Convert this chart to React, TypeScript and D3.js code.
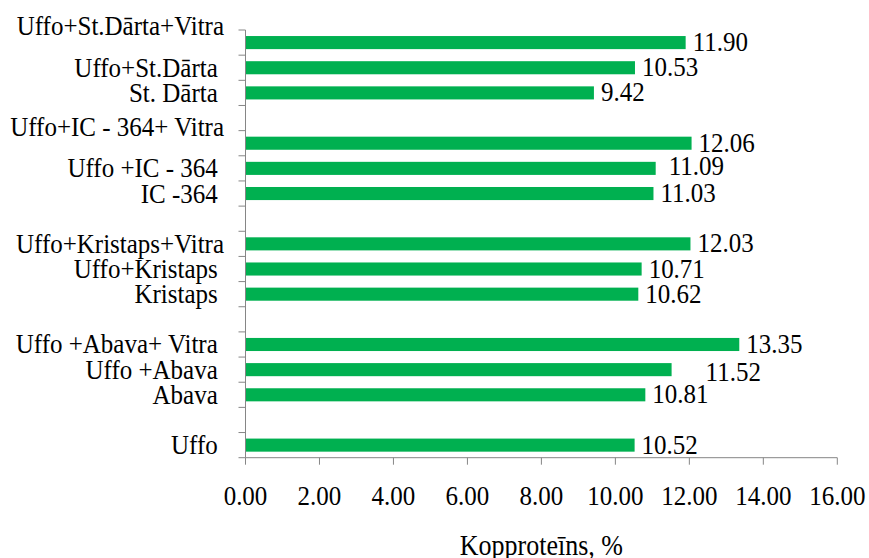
import React from "react";
import * as d3 from "d3";

// Varieties and mixtures, bottom to top; empty strings are spacer rows between groups.
// A trailing "\n" puts the name on the upper of two lines.
const categories = [
  "Uffo ",
  "",
  "Abava ",
  "Uffo +Abava ",
  "Uffo +Abava+ Vitra ",
  "",
  "Kristaps ",
  "Uffo+Kristaps ",
  "Uffo+Kristaps+Vitra",
  "",
  "IC -364 ",
  "Uffo +IC - 364 ",
  "Uffo+IC - 364+ Vitra\n",
  "",
  "St. Dārta ",
  "Uffo+St.Dārta ",
  "Uffo+St.Dārta+Vitra\n",
];

// Crude protein content, %
const proteinValues: (number | null)[] = [
  10.52, null, 10.81, 11.52, 13.35, null, 10.62, 10.71, 12.03, null, 11.03, 11.09, 12.06, null, 9.42,
  10.53, 11.9,
];

const xTicks = [0, 2, 4, 6, 8, 10, 12, 14, 16];
const xTitle = "Kopproteīns, %";

// Hand-placed data labels (dx, dy in px)
const labelNudge: Record<number, [number, number]> = {
  3: [27, 3],
  11: [6, -2],
};

const W = 869;
const H = 558;
const left = 245.5;
const right = 837.3;
const top = 30;
const bottom = 457.7;
const FONT = "'Liberation Serif', 'Times New Roman', serif";
const BAR = "#00B050";
const AXIS = "#868686";
const STRETCH = 1.1;

function Label(props: {
  x: number;
  y: number;
  size: number;
  anchor: "start" | "middle" | "end";
  children: string;
}) {
  const { x, y, size, anchor, children } = props;
  return (
    <g transform={`translate(${x},${y}) scale(1,${STRETCH})`}>
      <text
        x={0}
        y={0}
        fontFamily={FONT}
        fontSize={size}
        textAnchor={anchor}
        fill="#000"
        xmlSpace="preserve"
        style={{ whiteSpace: "pre" }}
      >
        {children}
      </text>
    </g>
  );
}

export default function App() {
  const x = d3.scaleLinear().domain([0, 16]).range([left, right]);
  const idx = categories.map((_, i) => i);
  const y = d3
    .scaleBand<number>()
    .domain(idx)
    .range([bottom, top])
    .paddingInner(0.48)
    .paddingOuter(0.24);
  const step = y.step();
  const bw = y.bandwidth();
  const center = (i: number) => (y(i) as number) + bw / 2;
  const boundaries = d3.range(categories.length + 1).map((k) => top + k * step);
  const lineH = 33;

  return (
    <svg
      width={W}
      height={H}
      viewBox={`0 0 ${W} ${H}`}
      style={{ position: "absolute", left: 0, top: 0, background: "#fff" }}
    >
      {/* bars */}
      {idx.map((i) => {
        const v = proteinValues[i];
        if (v == null) return null;
        return (
          <rect
            key={`bar-${i}`}
            x={x(0) + 0.5}
            y={y(i) as number}
            width={x(v) - x(0) - 0.5}
            height={bw}
            fill={BAR}
          />
        );
      })}

      {/* category axis */}
      <line x1={left} x2={left} y1={top} y2={bottom} stroke={AXIS} strokeWidth={1} />
      {boundaries.map((b, k) => (
        <line key={`yt-${k}`} x1={left - 7} x2={left} y1={b} y2={b} stroke={AXIS} strokeWidth={1} />
      ))}

      {/* value axis */}
      <line x1={left} x2={right} y1={bottom} y2={bottom} stroke={AXIS} strokeWidth={1} />
      {xTicks.map((t) => (
        <line key={`xt-${t}`} x1={x(t)} x2={x(t)} y1={bottom} y2={bottom + 7} stroke={AXIS} strokeWidth={1} />
      ))}
      {xTicks.map((t) => (
        <Label key={`xl-${t}`} x={x(t)} y={505} size={25} anchor="middle">
          {t.toFixed(2)}
        </Label>
      ))}

      {/* category names */}
      {idx.map((i) => {
        const name = categories[i];
        if (!name) return null;
        const lines = name.split("\n");
        const c = center(i);
        const first = c + 9 - ((lines.length - 1) * lineH) / 2;
        return (
          <g key={`cl-${i}`}>
            {lines.map((ln, j) =>
              ln ? (
                <Label key={j} x={224} y={first + j * lineH} size={25} anchor="end">
                  {ln}
                </Label>
              ) : null
            )}
          </g>
        );
      })}

      {/* data labels */}
      {idx.map((i) => {
        const v = proteinValues[i];
        if (v == null) return null;
        const [dx, dy] = labelNudge[i] ?? [0, 0];
        return (
          <Label key={`vl-${i}`} x={x(v) + 7 + dx} y={center(i) + 8.5 + dy} size={25} anchor="start">
            {v.toFixed(2)}
          </Label>
        );
      })}

      {/* axis title */}
      <Label x={(left + right) / 2} y={555} size={26} anchor="middle">
        {xTitle}
      </Label>
    </svg>
  );
}
